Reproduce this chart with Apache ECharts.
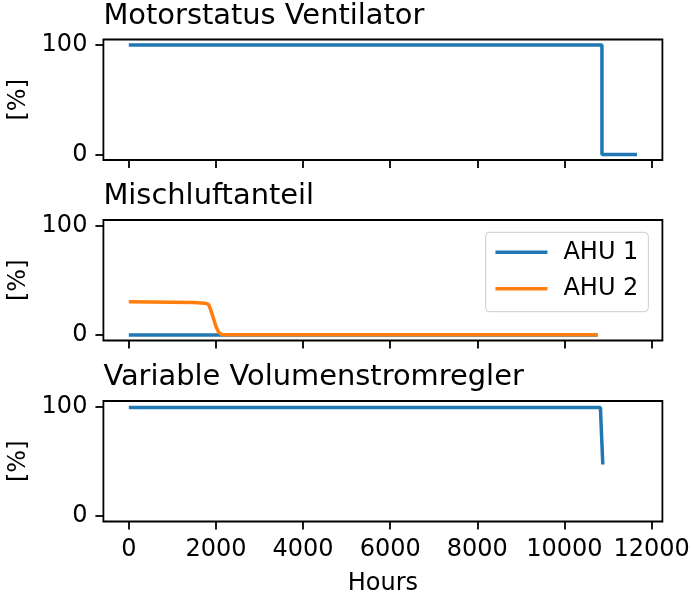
<!DOCTYPE html>
<html>
<head>
<meta charset="utf-8">
<script src="https://cdn.jsdelivr.net/npm/echarts@6/dist/echarts.min.js"></script>
<style>
html,body{margin:0;padding:0;background:#fff;}
#chart{width:692px;height:598px;}
</style>
</head>
<body>
<div id="chart"></div>
<script>
// ---- data ----
const panelTitles = ['Motorstatus Ventilator', 'Mischluftanteil', 'Variable Volumenstromregler'];
const xTicks = [0, 2000, 4000, 6000, 8000, 10000, 12000];
const yTicks = [0, 100];
const xLabel = 'Hours';
const yLabel = '[%]';
const seriesNames = ['AHU 1', 'AHU 2'];

const motorHours = [0, 10860, 10861, 11665];
const motorValues = [100, 100, 0, 0];

const mixAhu1Hours = [0, 10760];
const mixAhu1Values = [0, 0];

const mixAhu2Hours = [0, 500, 1000, 1500, 1750, 1830, 1885, 1945, 2005, 2065, 2135, 2250, 10760];
const mixAhu2Values = [30.3, 30.1, 29.9, 29.6, 29.1, 27.9, 22.5, 14.9, 7.3, 2.2, 0.5, 0.3, 0.3];

const vavHours = [0, 10825, 10880];
const vavValues = [99, 99, 47];

// ---- layout ----
const FONT = 'DejaVu Sans';
const gridLeft = 103.4, gridWidth = 559;
const gridTops = [39.5, 220, 401];
const gridHeight = 120.5;
const xMin = -583, xMax = 12248;
const blue = '#1f77b4', orange = '#ff7f0e';

function zip(xs, ys){ return xs.map((x,i)=>[x, ys[i]]); }

const grids = gridTops.map(t => ({
  left: gridLeft, top: t, width: gridWidth, height: gridHeight,
  show: true, borderColor: '#000', borderWidth: 1.8, backgroundColor: 'transparent',
  containLabel: false, outerBoundsMode: 'none'
}));

const xAxes = gridTops.map((t, i) => ({
  type: 'value', gridIndex: i, min: xMin, max: xMax, position: 'bottom',
  axisLine: {show: false, onZero: false},
  splitLine: {show: false},
  axisTick: {show: true, inside: false, customValues: xTicks, length: 8, lineStyle: {color: '#000', width: 1.8}},
  axisLabel: {show: i === 2, customValues: xTicks, margin: 16, color: '#000', fontFamily: FONT, fontSize: 24,
              formatter: v => String(v)},
  name: i === 2 ? xLabel : '', nameLocation: 'middle', nameGap: 50,
  nameTextStyle: {color: '#000', fontFamily: FONT, fontSize: 24}
}));

const yAxes = gridTops.map((t, i) => ({
  type: 'value', gridIndex: i, min: -5, max: 105, position: 'left',
  axisLine: {show: false, onZero: false},
  splitLine: {show: false},
  axisTick: {show: true, inside: false, customValues: yTicks, length: 8, lineStyle: {color: '#000', width: 1.8}},
  axisLabel: {customValues: yTicks, margin: 16, color: '#000', fontFamily: FONT, fontSize: 24,
              formatter: v => String(v)},
  name: yLabel, nameLocation: 'middle', nameGap: 63, nameRotate: 90,
  nameTextStyle: {color: '#000', fontFamily: FONT, fontSize: 24}
}));

const titles = panelTitles.map((txt, i) => ({
  text: txt, left: gridLeft - 5, top: gridTops[i] - 43,
  textStyle: {color: '#000', fontFamily: FONT, fontSize: 28.9, fontWeight: 'normal'}
}));

const lineBase = {type: 'line', symbol: 'none', showSymbol: false, animation: false, silent: true};

const option = {
  backgroundColor: '#fff',
  animation: false,
  title: titles,
  grid: grids,
  xAxis: xAxes,
  yAxis: yAxes,
  legend: {
    data: seriesNames,
    orient: 'vertical',
    left: 485.7, top: 232.3,
    padding: [8, 10, 11, 8],
    itemWidth: 52, itemHeight: 24, itemGap: 12.4,
    itemStyle: {color: 'rgba(0,0,0,0)', borderWidth: 0, opacity: 0},
    lineStyle: {width: 3.5},
    backgroundColor: 'rgba(255,255,255,0.8)',
    borderColor: '#cccccc', borderWidth: 1, borderRadius: 4,
    textStyle: {color: '#000', fontFamily: FONT, fontSize: 24, lineHeight: 24, padding: [0,0,0,11]}
  },
  series: [
    Object.assign({}, lineBase, {name: 'motor', xAxisIndex: 0, yAxisIndex: 0, data: zip(motorHours, motorValues), lineStyle: {color: blue, width: 3.5}, itemStyle: {color: blue}}),
    Object.assign({}, lineBase, {name: seriesNames[0], xAxisIndex: 1, yAxisIndex: 1, data: zip(mixAhu1Hours, mixAhu1Values), lineStyle: {color: blue, width: 3.5}, itemStyle: {color: blue}}),
    Object.assign({}, lineBase, {name: seriesNames[1], xAxisIndex: 1, yAxisIndex: 1, data: zip(mixAhu2Hours, mixAhu2Values), lineStyle: {color: orange, width: 3.5}, itemStyle: {color: orange}}),
    Object.assign({}, lineBase, {name: 'vav', xAxisIndex: 2, yAxisIndex: 2, data: zip(vavHours, vavValues), lineStyle: {color: blue, width: 3.5}, itemStyle: {color: blue}})
  ]
};

const chart = echarts.init(document.getElementById('chart'), null, {renderer: 'canvas'});
chart.setOption(option);
</script>
</body>
</html>
